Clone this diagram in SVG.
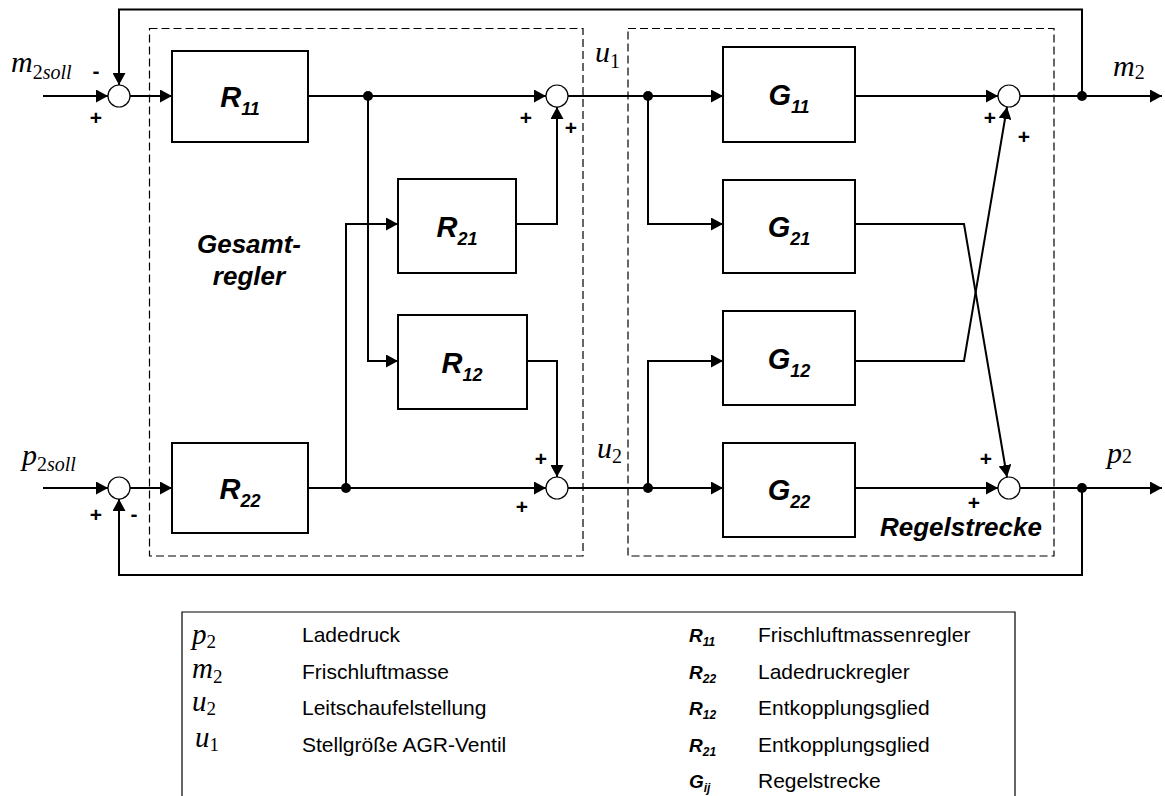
<svg xmlns="http://www.w3.org/2000/svg" width="1165" height="796" viewBox="0 0 1165 796">
<style>
.box{fill:#fff;stroke:#000;stroke-width:2}
.sum{fill:#fff;stroke:#000;stroke-width:1.2}
.dash{fill:none;stroke:#000;stroke-width:1.2;stroke-dasharray:8,4}
.ln{fill:none;stroke:#000;stroke-width:2}
.dot{fill:#000}
.lbl{font-family:"Liberation Sans",Arial,sans-serif;font-weight:bold;font-style:italic;font-size:29px}
.lsub{font-size:18px}
.sign{font-family:"Liberation Sans",Arial,sans-serif;font-weight:bold;font-size:21px;text-anchor:middle}
.math{font-family:"Liberation Serif","Times New Roman",serif;font-style:italic;font-size:30px}
.mnum{font-style:normal;font-size:20px}
.msub{font-style:italic;font-size:20px}
.big{font-family:"Liberation Sans",Arial,sans-serif;font-weight:bold;font-style:italic;font-size:26px}
.leg{font-family:"Liberation Sans",Arial,sans-serif;font-size:21px}
.lmath{font-family:"Liberation Serif","Times New Roman",serif;font-style:italic;font-size:29px}
.lnum{font-style:normal;font-size:19px}
.lr{font-family:"Liberation Sans",Arial,sans-serif;font-weight:bold;font-style:italic;font-size:19px}
.lrs{font-size:12px}
</style>
<defs>
<marker id="arr" markerUnits="userSpaceOnUse" markerWidth="12" markerHeight="13" refX="12" refY="6.5" orient="auto">
<path d="M0,0 L12,6.5 L0,13 z" fill="#000"/>
</marker>
</defs>

<g id="frames">
<rect class="dash" x="149.5" y="28.5" width="433.5" height="527.5"/>
<rect class="dash" x="628" y="28.5" width="426" height="527.5"/>
</g>

<g id="connectors">
<path class="ln" d="M1082,96 V9.5 H119 V85" marker-end="url(#arr)"/>
<path class="ln" d="M1082,488 V575 H119 V499" marker-end="url(#arr)"/>
<path class="ln" d="M43,96 H108" marker-end="url(#arr)"/>
<path class="ln" d="M43,488 H108" marker-end="url(#arr)"/>
<path class="ln" d="M130,96 H172" marker-end="url(#arr)"/>
<path class="ln" d="M130,488 H172" marker-end="url(#arr)"/>
<path class="ln" d="M308,96 H546" marker-end="url(#arr)"/>
<path class="ln" d="M368,96 V361 H398" marker-end="url(#arr)"/>
<path class="ln" d="M308,488 H546" marker-end="url(#arr)"/>
<path class="ln" d="M346,488 V224 H398" marker-end="url(#arr)"/>
<path class="ln" d="M516,224 H557 V107" marker-end="url(#arr)"/>
<path class="ln" d="M527,361 H557 V477" marker-end="url(#arr)"/>
<path class="ln" d="M568,96 H723" marker-end="url(#arr)"/>
<path class="ln" d="M648,96 V224 H723" marker-end="url(#arr)"/>
<path class="ln" d="M568,488 H723" marker-end="url(#arr)"/>
<path class="ln" d="M648,488 V361 H723" marker-end="url(#arr)"/>
<path class="ln" d="M855,96 H998" marker-end="url(#arr)"/>
<path class="ln" d="M855,488 H998" marker-end="url(#arr)"/>
<path class="ln" d="M855,224 H964 L1007,477" marker-end="url(#arr)"/>
<path class="ln" d="M855,361 H964 L1007,107" marker-end="url(#arr)"/>
<path class="ln" d="M1020,96 H1162" marker-end="url(#arr)"/>
<path class="ln" d="M1020,488 H1162" marker-end="url(#arr)"/>
<circle class="dot" cx="368" cy="96" r="5"/>
<circle class="dot" cx="346" cy="488" r="5"/>
<circle class="dot" cx="648" cy="96" r="5"/>
<circle class="dot" cx="648" cy="488" r="5"/>
<circle class="dot" cx="1082" cy="96" r="5"/>
<circle class="dot" cx="1082" cy="488" r="5"/>
</g>

<g id="S1"><circle class="sum" cx="119" cy="96" r="11"/>
<text class="sign" x="96" y="78">-</text><text class="sign" x="96" y="125">+</text></g>
<g id="S2"><circle class="sum" cx="557" cy="96" r="11"/>
<text class="sign" x="526" y="125">+</text><text class="sign" x="571" y="135">+</text></g>
<g id="S3"><circle class="sum" cx="1009" cy="96" r="11"/>
<text class="sign" x="990" y="125">+</text><text class="sign" x="1024" y="144">+</text></g>
<g id="S4"><circle class="sum" cx="119" cy="488" r="11"/>
<text class="sign" x="96" y="522">+</text><text class="sign" x="134" y="521">-</text></g>
<g id="S5"><circle class="sum" cx="557" cy="488" r="11"/>
<text class="sign" x="541" y="466">+</text><text class="sign" x="522" y="514">+</text></g>
<g id="S6"><circle class="sum" cx="1009" cy="488" r="11"/>
<text class="sign" x="986" y="466">+</text><text class="sign" x="974" y="510">+</text></g>

<g id="R11"><rect class="box" x="172" y="51" width="136" height="91"/>
<text class="lbl" x="240" y="107" text-anchor="middle">R<tspan class="lsub" dy="8">11</tspan></text></g>
<g id="R21"><rect class="box" x="398" y="179" width="118" height="94"/>
<text class="lbl" x="457" y="237" text-anchor="middle">R<tspan class="lsub" dy="8">21</tspan></text></g>
<g id="R12"><rect class="box" x="398" y="315" width="129" height="94"/>
<text class="lbl" x="462" y="373" text-anchor="middle">R<tspan class="lsub" dy="8">12</tspan></text></g>
<g id="R22"><rect class="box" x="172" y="443" width="136" height="90"/>
<text class="lbl" x="240" y="499" text-anchor="middle">R<tspan class="lsub" dy="8">22</tspan></text></g>
<g id="G11"><rect class="box" x="723" y="47" width="132" height="95"/>
<text class="lbl" x="789" y="105" text-anchor="middle">G<tspan class="lsub" dy="8">11</tspan></text></g>
<g id="G21"><rect class="box" x="723" y="180" width="132" height="93"/>
<text class="lbl" x="789" y="237" text-anchor="middle">G<tspan class="lsub" dy="8">21</tspan></text></g>
<g id="G12"><rect class="box" x="723" y="311" width="132" height="94"/>
<text class="lbl" x="789" y="369" text-anchor="middle">G<tspan class="lsub" dy="8">12</tspan></text></g>
<g id="G22"><rect class="box" x="723" y="443" width="132" height="94"/>
<text class="lbl" x="789" y="500" text-anchor="middle">G<tspan class="lsub" dy="8">22</tspan></text></g>

<g id="labels">
<text class="math" x="11" y="72">m<tspan class="mnum" dy="7">2</tspan><tspan class="msub">soll</tspan></text>
<text class="math" x="22" y="465">p<tspan class="mnum" dy="6">2</tspan><tspan class="msub">soll</tspan></text>
<text class="math" x="595" y="62">u<tspan class="mnum" dy="6">1</tspan></text>
<text class="math" x="597" y="458">u<tspan class="mnum" dy="5">2</tspan></text>
<text class="math" x="1113" y="76">m<tspan class="mnum" dy="3">2</tspan></text>
<text class="math" x="1107" y="463">p<tspan class="mnum" dy="0">2</tspan></text>
<text class="big" x="249" y="253" text-anchor="middle">Gesamt-</text>
<text class="big" x="249" y="285" text-anchor="middle">regler</text>
<text class="big" x="880" y="536">Regelstrecke</text>
</g>

<g id="legend">
<path class="ln" style="stroke-width:1.2" d="M182,797 V612 H1015 V797"/>
<text class="lmath" x="192" y="644">p<tspan class="lnum" dy="4">2</tspan></text>
<text class="lmath" x="192" y="678">m<tspan class="lnum" dy="5">2</tspan></text>
<text class="lmath" x="192" y="711">u<tspan class="lnum" dy="4">2</tspan></text>
<text class="lmath" x="195" y="747">u<tspan class="lnum" dy="4">1</tspan></text>
<text class="leg" x="302" y="642">Ladedruck</text>
<text class="leg" x="302" y="679">Frischluftmasse</text>
<text class="leg" x="302" y="715">Leitschaufelstellung</text>
<text class="leg" x="302" y="752">Stellgröße AGR-Ventil</text>
<text class="lr" x="689" y="642">R<tspan class="lrs" dy="4">11</tspan></text>
<text class="lr" x="689" y="679">R<tspan class="lrs" dy="4">22</tspan></text>
<text class="lr" x="689" y="715">R<tspan class="lrs" dy="4">12</tspan></text>
<text class="lr" x="689" y="752">R<tspan class="lrs" dy="4">21</tspan></text>
<text class="lr" x="689" y="788">G<tspan class="lrs" dy="4">ij</tspan></text>
<text class="leg" x="758" y="642">Frischluftmassenregler</text>
<text class="leg" x="758" y="679">Ladedruckregler</text>
<text class="leg" x="758" y="715">Entkopplungsglied</text>
<text class="leg" x="758" y="752">Entkopplungsglied</text>
<text class="leg" x="758" y="788">Regelstrecke</text>
</g>
</svg>
